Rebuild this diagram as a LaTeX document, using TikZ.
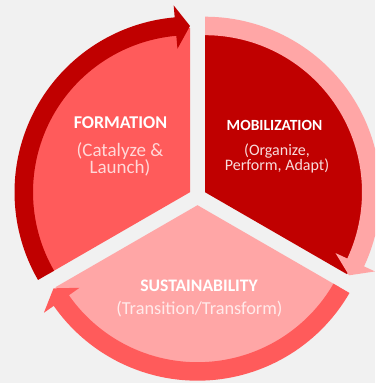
\documentclass[tikz,border=0pt]{standalone}
\usepackage{fontspec}
\setmainfont{Carlito}
\definecolor{cdark}{HTML}{C00000}
\definecolor{csalmon}{HTML}{FF5B5B}
\definecolor{cpink}{HTML}{FFA6A6}
\definecolor{cbg}{HTML}{F1F1F1}
\definecolor{subF}{HTML}{FFD8D8}
\definecolor{subM}{HTML}{F8DCDC}
\definecolor{subS}{HTML}{FFEAEA}
\newcommand\cycarrow[5]{% color, center, tail angle, tip angle, base angle
  \fill[#1, shift={#2}] (#3:175.5) arc[start angle=#3, end angle=#5, radius=175.5]
    -- (#5:187.5) -- (#4:166.25) -- (#5:144) -- (#5:157)
    arc[start angle=#5, end angle=#3, radius=157] -- cycle;}
\begin{document}
\begin{tikzpicture}[x=1pt,y=1pt,
  ttl/.style={font=\bfseries\fontsize{#1}{#1}\selectfont, text=white, inner sep=0pt, anchor=base},
  sub/.style 2 args={font=\fontsize{#1}{#2}\selectfont, inner sep=0pt, anchor=base, align=center}]
\useasboundingbox (0,0) rectangle (375,383);
\clip (0,0) rectangle (375,383);
\fill[cbg] (0,0) rectangle (375,383);
\coordinate (F) at (190,190.8);
\coordinate (M) at (205,190.8);
\coordinate (S) at (197.5,177.8);
% sectors
\fill[csalmon] (F) -- ++(90:164) arc[start angle=90, end angle=210, radius=164] -- cycle;
\fill[cdark] (M) -- ++(-30:164) arc[start angle=-30, end angle=90, radius=164] -- cycle;
\fill[cpink] (S) -- ++(210:164) arc[start angle=210, end angle=330, radius=164] -- cycle;
% arrows
\cycarrow{cdark}{(F)}{210}{90}{95}
\cycarrow{cpink}{(M)}{90}{-30}{-25}
\cycarrow{csalmon}{(S)}{330}{210}{215}
% texts
\node[ttl=18] (formT) at (120.5,254) {FORMATION};
\node[sub={19}{16}, text=subF] (formS) at (120,209) {(Catalyze \&\\Launch)};
\node[ttl=15.5] (mobT) at (274.5,252) {MOBILIZATION};
\node[sub={16}{15}, text=subM] (mobS) at (277,212.3) {(Organize,\\Perform, Adapt)};
\node[ttl=17.6] (susT) at (199,91.3) {SUSTAINABILITY};
\node[sub={18.3}{18.3}, text=subS] (susS) at (199.5,68) {(Transition/Transform)};
\end{tikzpicture}
\end{document}
